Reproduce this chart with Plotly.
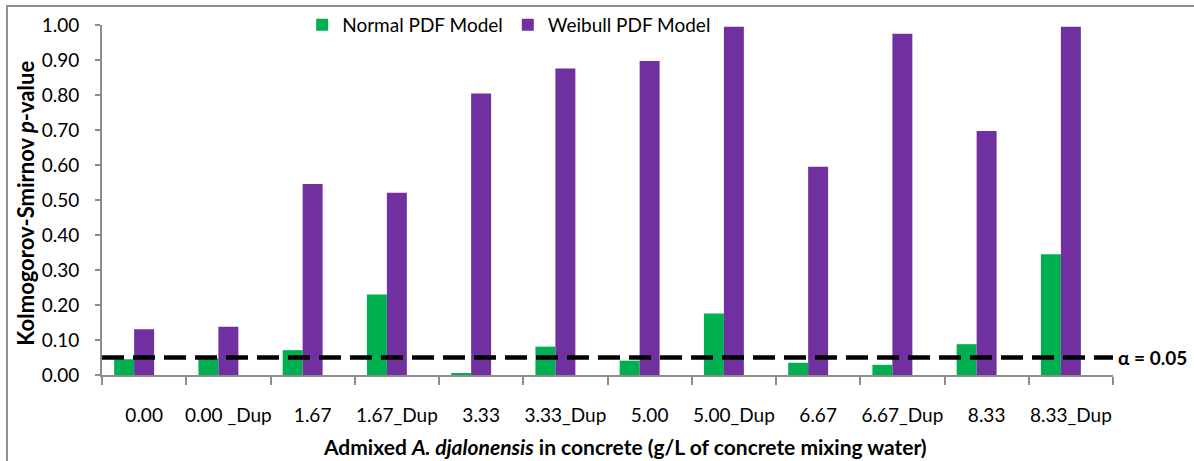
import plotly.graph_objects as go

categories = ["0.00", "0.00 _Dup", "1.67", "1.67_Dup", "3.33", "3.33_Dup",
              "5.00", "5.00_Dup", "6.67", "6.67_Dup", "8.33", "8.33_Dup"]
normal_pdf = [0.045, 0.048, 0.071, 0.230, 0.005, 0.081, 0.041, 0.176, 0.035, 0.029, 0.088, 0.345]
weibull_pdf = [0.131, 0.138, 0.546, 0.521, 0.804, 0.876, 0.897, 0.995, 0.595, 0.975, 0.697, 0.995]
alpha = 0.05
y_ticks = [0.0, 0.1, 0.2, 0.3, 0.4, 0.5, 0.6, 0.7, 0.8, 0.9, 1.0]

FONT = "Lato"
GREEN = "#00B050"
PURPLE = "#7030A0"
AXIS = "#8c8c8c"

bw = 0.237
fig = go.Figure()
fig.add_trace(go.Bar(x=categories, y=normal_pdf, name="Normal PDF Model",
                     marker=dict(color=GREEN, line=dict(width=0)),
                     width=bw, offset=-1.5 * bw))
fig.add_trace(go.Bar(x=categories, y=weibull_pdf, name="Weibull PDF Model",
                     marker=dict(color=PURPLE, line=dict(width=0)),
                     width=bw, offset=-0.5 * bw))

fig.add_shape(type="line", xref="paper", yref="y", x0=0, x1=1, y0=alpha, y1=alpha,
              line=dict(color="black", width=4.5, dash="22px,9px"), layer="above")
fig.add_annotation(xref="paper", yref="y", x=1, y=alpha, xanchor="left", yanchor="middle",
                   xshift=3, text="<b>α = 0.05</b>", showarrow=False,
                   font=dict(family=FONT, size=19, color="black"))

# outer chart frame
fig.add_shape(type="rect", xref="paper", yref="paper", x0=-0.094, x1=1.2, y0=-0.5, y1=1.054,
              line=dict(color="#909090", width=2), fillcolor="rgba(0,0,0,0)", layer="below")

fig.add_annotation(xref="paper", yref="paper", x=0.517, y=-0.203, xanchor="center", yanchor="middle",
                   text="<b>Admixed <i>A. djalonensis</i> in concrete (g/L of concrete mixing water)</b>",
                   showarrow=False, font=dict(family=FONT, size=21, color="black"))
fig.add_annotation(xref="paper", yref="paper", x=-0.076, y=0.49, xanchor="center", yanchor="middle",
                   textangle=-90, text="<b>Kolmogorov-Smirnov <i>p</i>-value</b>",
                   showarrow=False, font=dict(family=FONT, size=22, color="black"))

fig.update_layout(
    width=1194, height=461,
    margin=dict(l=102, r=81, t=25, b=86, autoexpand=False),
    paper_bgcolor="white", plot_bgcolor="white",
    barmode="overlay",
    font=dict(family=FONT, size=18, color="black"),
    legend=dict(orientation="h", x=0.198, y=1.0, xanchor="left", yanchor="middle",
                bgcolor="rgba(0,0,0,0)", font=dict(family=FONT, size=19, color="black"),
                itemwidth=30),
    xaxis=dict(type="category", showline=True, linecolor=AXIS, linewidth=2,
               ticks="outside", tickson="boundaries", ticklen=8, tickcolor=AXIS, tickwidth=2,
               ticklabelstandoff=22, showgrid=False, zeroline=False, tickangle=0,
               automargin=False,
               tickfont=dict(family=FONT, size=19, color="black")),
    yaxis=dict(range=[0, 1.0], tickvals=y_ticks, tickformat=".2f", showline=True,
               linecolor=AXIS, linewidth=2, ticks="outside", ticklen=5, tickcolor=AXIS,
               tickwidth=2, showgrid=False, zeroline=False, ticklabelstandoff=12,
               automargin=False,
               tickfont=dict(family=FONT, size=19, color="black")),
    showlegend=True,
)

fig.write_html("out.html")
